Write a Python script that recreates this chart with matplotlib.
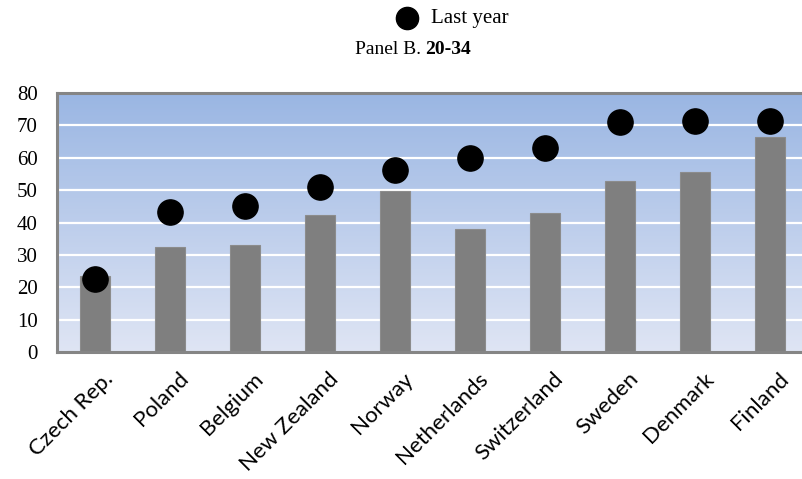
import numpy as np
import matplotlib
matplotlib.use("Agg")
import matplotlib.pyplot as plt
import matplotlib.transforms as mtransforms

# Share of 20-34 year olds, current vs last year
countries = ["Czech Rep.", "Poland", "Belgium", "New Zealand", "Norway",
             "Netherlands", "Switzerland", "Sweden", "Denmark", "Finland"]
current = [23.5, 32.3, 32.9, 42.3, 49.7, 38.0, 42.8, 52.8, 55.6, 66.3]
last_year = [22.6, 43.1, 45.0, 50.9, 56.2, 59.9, 62.9, 70.9, 71.2, 71.5]
y_ticks = [0, 10, 20, 30, 40, 50, 60, 70, 80]

serif = "Liberation Serif"

fig = plt.figure(figsize=(8.03, 4.79), dpi=100)
ax = fig.add_axes([57 / 803, 1 - 352 / 479, 750.5 / 803, 259 / 479])

x = np.arange(len(countries))
ax.set_xlim(-0.5, len(countries) - 0.5)
ax.set_ylim(0, 80)

# vertical blue gradient behind the data
grad = np.linspace(0, 1, 256).reshape(-1, 1)
top_c = np.array([0x9a, 0xb6, 0xe3]) / 255
bot_c = np.array([0xdf, 0xe5, 0xf4]) / 255
img = bot_c[None, None, :] * (1 - grad[:, :, None]) + top_c[None, None, :] * grad[:, :, None]
ax.imshow(img, extent=[-0.5, len(countries) - 0.5, 0, 80], origin="lower",
          aspect="auto", zorder=0)

for yv in y_ticks[1:-1]:
    ax.axhline(yv, color="white", lw=1.6, zorder=1)

ax.bar(x, current, width=0.4, color="#7f7f7f", edgecolor="#8c8c8c", lw=0.8, zorder=2)
ax.scatter(x, last_year, s=330, color="black", zorder=3)

for side in ["left", "top", "bottom"]:
    ax.spines[side].set_color("#858585")
    ax.spines[side].set_linewidth(2.2)
ax.spines["right"].set_visible(False)

ax.set_yticks(y_ticks)
ax.set_yticklabels([str(v) for v in y_ticks], fontfamily=serif, fontsize=15)
ax.tick_params(axis="y", length=0, pad=14)
ax.tick_params(axis="x", length=0, pad=4)

ax.set_xticks(x)
ax.set_xticklabels(countries, rotation=45, ha="right", va="center",
                   rotation_mode="anchor", fontfamily="Lato", fontsize=16)
shift = mtransforms.ScaledTranslation(11 / 72, -13 / 72, fig.dpi_scale_trans)
for lbl in ax.get_xticklabels():
    lbl.set_transform(lbl.get_transform() + shift)

# legend and panel title
fig.add_artist(plt.Line2D([407 / 803], [1 - 18 / 479], marker="o", markersize=16,
                          color="black", transform=fig.transFigure))
fig.text(431 / 803, 1 - 18 / 479, "Last year", fontfamily=serif, fontsize=15,
         ha="left", va="center")
fig.text(421 / 803, 1 - 49 / 479, "Panel B.", fontfamily=serif, fontsize=14,
         ha="right", va="center")
fig.text(425 / 803, 1 - 49 / 479, "20-34", fontfamily=serif, fontsize=14,
         fontweight="bold", ha="left", va="center")

fig.savefig("out.png", dpi=100)
